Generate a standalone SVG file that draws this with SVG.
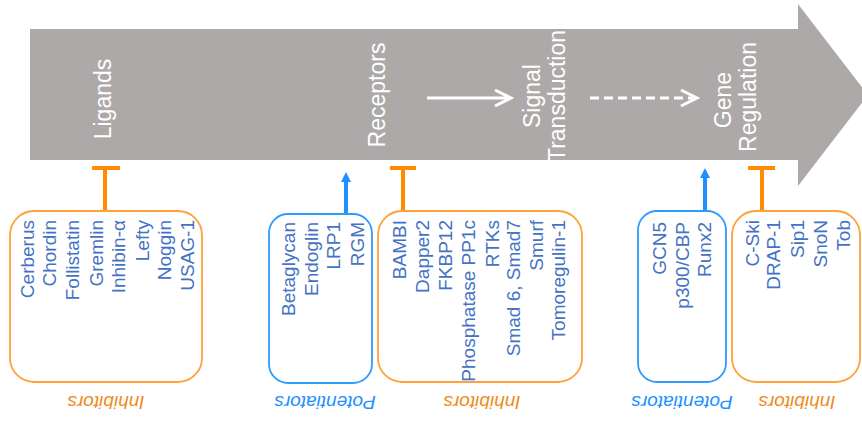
<svg xmlns="http://www.w3.org/2000/svg" width="862" height="428" viewBox="0 0 862 428">
<style>
.stage{font-family:"Liberation Sans",Arial,sans-serif;font-size:23px;fill:#ffffff;text-anchor:middle}
.item{font-family:"Liberation Sans",Arial,sans-serif;font-size:19px;fill:#4472C4;text-anchor:end}
.lab{font-family:"Liberation Sans",Arial,sans-serif;font-size:19px;font-style:italic;text-anchor:middle}
.inh{fill:#F08A1C}
.pot{fill:#1E90FF}
.boxo{fill:#ffffff;stroke:#FFA23A;stroke-width:1.8}
.boxb{fill:#ffffff;stroke:#2E9BFF;stroke-width:1.8}
.tbar{stroke:#FF8C00;stroke-width:4;fill:none}
.parr{stroke:#1E90FF;stroke-width:4;fill:none}
.white{stroke:#ffffff;stroke-width:3;fill:none}
</style>
<defs>
<marker id="bh" markerWidth="10" markerHeight="10" refX="4" refY="5" orient="auto" markerUnits="userSpaceOnUse" viewBox="0 0 10 10">
<path d="M0,0 L10,5 L0,10 z" fill="#1E90FF"/>
</marker>
</defs>
<rect width="862" height="428" fill="#ffffff"/>
<g id="pathway">
<path d="M30,29 L798,29 L798,4 L868,95 L798,186 L798,160 L30,160 z" fill="#ADA9A9"/>
<text class="stage" transform="rotate(-90 111 99)" x="111" y="99">Ligands</text>
<text class="stage" transform="rotate(-90 385 95)" x="385" y="95">Receptors</text>
<text class="stage" transform="rotate(-90 540 96)" x="540" y="96">Signal</text>
<text class="stage" transform="rotate(-90 565 96)" x="565" y="96">Transduction</text>
<text class="stage" transform="rotate(-90 731 100)" x="731" y="100">Gene</text>
<text class="stage" transform="rotate(-90 756 97)" x="756" y="97">Regulation</text>
</g>
<g id="connectors">
<path class="white" d="M427,98 L511,98 M495,90 L511,98 L495,106"/>
<path class="white" d="M590,98 L693,98" stroke-dasharray="9,5"/>
<path class="white" d="M681,90 L697,98 L681,106"/>
<path class="tbar" d="M105,211 L105,168 M92,168 L120,168"/>
<path class="parr" d="M346,213 L346,178" marker-end="url(#bh)"/>
<path class="tbar" d="M403,211 L403,168 M390,168 L416,168"/>
<path class="parr" d="M705,210 L705,174" marker-end="url(#bh)"/>
<path class="tbar" d="M762,211 L762,168 M748,168 L775,168"/>
</g>
<g id="ligand-inhibitors">
<rect class="boxo" x="10" y="211" width="192" height="171" rx="24"/>
<text class="item" transform="rotate(-90 34 220)" x="34" y="220">Cerberus</text>
<text class="item" transform="rotate(-90 56 220)" x="56" y="220">Chordin</text>
<text class="item" transform="rotate(-90 79 220)" x="79" y="220">Follistatin</text>
<text class="item" transform="rotate(-90 103 220)" x="103" y="220">Gremlin</text>
<text class="item" transform="rotate(-90 125 220)" x="125" y="220">Inhibin-α</text>
<text class="item" transform="rotate(-90 149 220)" x="149" y="220">Lefty</text>
<text class="item" transform="rotate(-90 171 220)" x="171" y="220">Noggin</text>
<text class="item" transform="rotate(-90 194 220)" x="194" y="220">USAG-1</text>
<text class="lab inh" transform="rotate(180 106 396)" x="106" y="396">Inhibitors</text>
</g>
<g id="receptor-potentiators">
<rect class="boxb" x="269" y="214" width="103" height="169" rx="19"/>
<text class="item" transform="rotate(-90 295 222)" x="295" y="222">Betaglycan</text>
<text class="item" transform="rotate(-90 318 222)" x="318" y="222">Endoglin</text>
<text class="item" transform="rotate(-90 340 222)" x="340" y="222">LRP1</text>
<text class="item" transform="rotate(-90 364 222)" x="364" y="222">RGM</text>
<text class="lab pot" transform="rotate(180 325 396)" x="325" y="396">Potentiators</text>
</g>
<g id="receptor-inhibitors">
<rect class="boxo" x="378" y="211" width="204" height="171" rx="24"/>
<text class="item" transform="rotate(-90 406 220)" x="406" y="220">BAMBI</text>
<text class="item" transform="rotate(-90 429 220)" x="429" y="220">Dapper2</text>
<text class="item" transform="rotate(-90 452 220)" x="452" y="220">FKBP12</text>
<text class="item" transform="rotate(-90 475 220)" x="475" y="220">Phosphatase PP1c</text>
<text class="item" transform="rotate(-90 499 220)" x="499" y="220">RTKs</text>
<text class="item" transform="rotate(-90 520 220)" x="520" y="220">Smad 6, Smad7</text>
<text class="item" transform="rotate(-90 543 220)" x="543" y="220">Smurf</text>
<text class="item" transform="rotate(-90 565 220)" x="565" y="220">Tomoregulin-1</text>
<text class="lab inh" transform="rotate(180 482 396)" x="482" y="396">Inhibitors</text>
</g>
<g id="gene-potentiators">
<rect class="boxb" x="638" y="211" width="88" height="171" rx="19"/>
<text class="item" transform="rotate(-90 666 222)" x="666" y="222">GCN5</text>
<text class="item" transform="rotate(-90 689 222)" x="689" y="222">p300/CBP</text>
<text class="item" transform="rotate(-90 711 222)" x="711" y="222">Runx2</text>
<text class="lab pot" transform="rotate(180 682 396)" x="682" y="396">Potentiators</text>
</g>
<g id="gene-inhibitors">
<rect class="boxo" x="732" y="211" width="128" height="171" rx="24"/>
<text class="item" transform="rotate(-90 759 220)" x="759" y="220">C-Ski</text>
<text class="item" transform="rotate(-90 780 220)" x="780" y="220">DRAP-1</text>
<text class="item" transform="rotate(-90 804 220)" x="804" y="220">Sip1</text>
<text class="item" transform="rotate(-90 827 220)" x="827" y="220">SnoN</text>
<text class="item" transform="rotate(-90 850 220)" x="850" y="220">Tob</text>
<text class="lab inh" transform="rotate(180 797 396)" x="797" y="396">Inhibitors</text>
</g>
</svg>
